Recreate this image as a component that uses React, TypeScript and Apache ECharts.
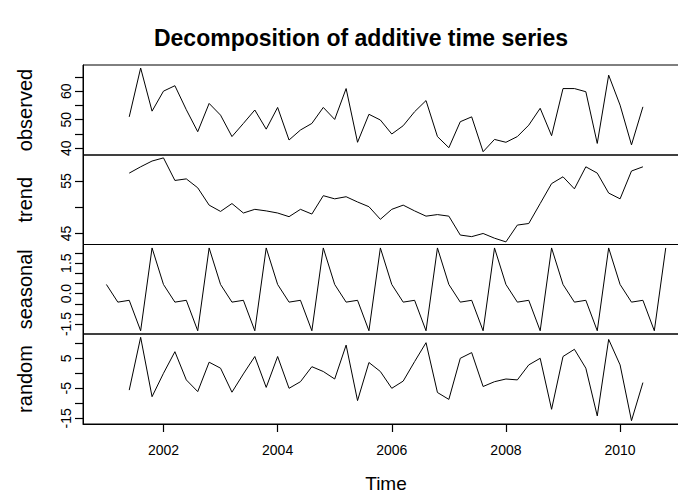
import { useEffect, useRef } from "react";
import * as echarts from "echarts";

const FREQUENCY = 5;
const observedStart = 2001.4;
const seasonalStart = 2001.0;

const observed = [51.0, 68.1, 53.0, 60.0, 61.9, 53.5, 45.8, 55.7, 51.6, 44.1, 48.7, 53.4, 46.7, 54.3, 42.9, 46.4, 48.7, 54.3, 50.1, 60.9, 42.1, 51.9, 49.9, 45.0, 47.9, 52.8, 56.7, 44.1, 40.2, 49.3, 51.0, 38.8, 43.1, 42.1, 44.1, 48.1, 54.0, 44.4, 60.9, 60.9, 59.8, 41.7, 65.6, 55.1, 41.2, 54.5];
const trend = [56.5, 57.7, 58.8, 59.4, 55.1, 55.4, 53.7, 50.4, 49.2, 50.7, 48.9, 49.6, 49.3, 48.9, 48.2, 49.6, 48.7, 52.2, 51.6, 52.0, 51.0, 50.1, 47.7, 49.6, 50.4, 49.3, 48.3, 48.6, 48.3, 44.7, 44.4, 45.0, 44.1, 43.4, 46.6, 46.9, 50.7, 54.5, 55.8, 53.5, 57.7, 56.5, 52.7, 51.6, 56.9, 57.7];
const seasonal = [
  0.45, -0.42, -0.33, -1.83, 2.25,
  0.45, -0.42, -0.33, -1.83, 2.25,
  0.45, -0.42, -0.33, -1.83, 2.25,
  0.45, -0.42, -0.33, -1.83, 2.25,
  0.45, -0.42, -0.33, -1.83, 2.25,
  0.45, -0.42, -0.33, -1.83, 2.25,
  0.45, -0.42, -0.33, -1.83, 2.25,
  0.45, -0.42, -0.33, -1.83, 2.25,
  0.45, -0.42, -0.33, -1.83, 2.25,
  0.45, -0.42, -0.33, -1.83, 2.25,
];
const random = [-5.6, 12.0, -7.8, 0.0, 7.2, -2.2, -6.1, 3.7, 1.7, -6.3, -0.2, 5.6, -4.7, 5.6, -5.0, -2.8, 2.2, 0.6, -1.9, 9.4, -9.1, 3.6, 0.6, -5.0, -2.6, 3.9, 10.2, -6.4, -8.7, 5.0, 6.9, -4.4, -2.8, -1.9, -2.2, 2.8, 5.0, -12.0, 5.6, 8.0, 1.7, -14.2, 11.3, 2.8, -15.8, -3.1];

const panelNames = ["observed", "trend", "seasonal", "random"];
const timeTicks = [2002, 2004, 2006, 2008, 2010];
const observedTicks = [40, 45, 50, 55, 60, 65];
const observedLabels = [40, 50, 60];
const trendTicks = [45, 50, 55];
const trendLabels = [45, 55];
const seasonalTicks = [-1.5, -1.0, -0.5, 0.0, 0.5, 1.0, 1.5, 2.0];
const seasonalLabels = [-1.5, 0.0, 1.5];
const randomTicks = [-15, -10, -5, 0, 5, 10];
const randomLabels = [-15, -5, 5];

const FONT = "'Liberation Sans', Arial, Helvetica, sans-serif";

const toPairs = (start: number, values: number[]) =>
  values.map((v, i) => [start + i / FREQUENCY, v]);

export default function App() {
  const ref = useRef<HTMLDivElement>(null);

  useEffect(() => {
    document.body.style.margin = "0";
    if (!ref.current) return;
    const chart = echarts.init(ref.current, null, { renderer: "svg" });

    const grids = [
      { top: 65, height: 90 },
      { top: 155, height: 89.5 },
      { top: 244.5, height: 89.5 },
      { top: 334, height: 90 },
    ].map((g) => ({
      left: 83,
      width: 605,
      top: g.top,
      height: g.height,
      show: true,
      borderColor: "#000",
      borderWidth: 1,
      backgroundColor: "transparent",
      containLabel: false,
      outerBoundsMode: "none",
    }));

    const xMin = 2000.59;
    const xMax = 2011.19;
    const xAxes = [0, 1, 2, 3].map((i) => ({
      type: "value",
      gridIndex: i,
      position: "bottom",
      min: xMin,
      max: xMax,
      show: i === 3,
      splitLine: { show: false },
      axisLine: { show: true, onZero: false, lineStyle: { color: "#000", width: 1 } },
      axisTick: {
        show: true,
        length: 8,
        inside: false,
        customValues: timeTicks,
        lineStyle: { color: "#000", width: 1.2 },
      },
      axisLabel: {
        show: true,
        customValues: timeTicks,
        margin: 19,
        fontSize: 14,
        color: "#000",
        fontFamily: FONT,
        formatter: (v: number) => String(Math.round(v)),
      },
    }));

    const yDefs = [
      { min: 37.65, max: 69.15, ticks: observedTicks, labels: observedLabels, dec: 0 },
      { min: 42.9, max: 59.95, ticks: trendTicks, labels: trendLabels, dec: 0 },
      { min: -1.99, max: 2.42, ticks: seasonalTicks, labels: seasonalLabels, dec: 1 },
      { min: -16.9, max: 13.1, ticks: randomTicks, labels: randomLabels, dec: 0 },
    ];
    const yAxes = yDefs.map((d, i) => ({
      type: "value",
      gridIndex: i,
      position: "left",
      min: d.min,
      max: d.max,
      splitLine: { show: false },
      axisLine: { show: true, onZero: false, lineStyle: { color: "#000", width: 1 } },
      axisTick: {
        show: true,
        length: 8,
        inside: false,
        customValues: d.ticks,
        lineStyle: { color: "#000", width: 1.2 },
      },
      axisLabel: {
        customValues: d.labels,
        rotate: 90,
        margin: 10,
        fontSize: 14,
        color: "#000",
        fontFamily: FONT,
        formatter: (v: number) => v.toFixed(d.dec),
      },
    }));

    const seriesData = [
      toPairs(observedStart, observed),
      toPairs(observedStart, trend),
      toPairs(seasonalStart, seasonal),
      toPairs(observedStart, random),
    ];

    const series = seriesData.map((data, i) => ({
      type: "line",
      xAxisIndex: i,
      yAxisIndex: i,
      data,
      showSymbol: false,
      symbol: "none",
      silent: true,
      lineStyle: { color: "#000", width: 1 },
    }));

    const centers = grids.map((g) => g.top + g.height / 2);

    const graphic: any[] = [
      {
        type: "text",
        x: 361,
        y: 38,
        style: {
          text: "Decomposition of additive time series",
          font: `bold 23px ${FONT}`,
          fill: "#000",
          textAlign: "center",
          textVerticalAlign: "middle",
        },
      },
      {
        type: "text",
        x: 386,
        y: 483,
        style: {
          text: "Time",
          font: `19px ${FONT}`,
          fill: "#000",
          textAlign: "center",
          textVerticalAlign: "middle",
        },
      },
      ...panelNames.map((name, i) => ({
        type: "text",
        x: 25,
        y: centers[i],
        rotation: Math.PI / 2,
        style: {
          text: name,
          font: `20px ${FONT}`,
          fill: "#000",
          textAlign: "center",
          textVerticalAlign: "middle",
        },
      })),
    ];

    chart.setOption({
      animation: false,
      backgroundColor: "#fff",
      grid: grids,
      xAxis: xAxes,
      yAxis: yAxes,
      series,
      graphic,
    } as any);

    return () => chart.dispose();
  }, []);

  return <div ref={ref} style={{ width: 678, height: 500 }} />;
}
